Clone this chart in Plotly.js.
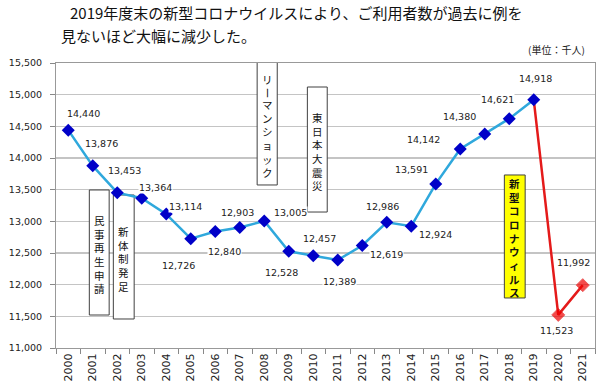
<!DOCTYPE html>
<html><head><meta charset="utf-8">
<script src="https://cdn.plot.ly/plotly-3.0.1.min.js"></script>
<style>html,body{margin:0;padding:0;background:#fff}#chart{width:600px;height:390px}</style>
</head><body><div id="chart"></div>
<script>
// ---- data ----
const years = ['2000','2001','2002','2003','2004','2005','2006','2007','2008','2009','2010',
               '2011','2012','2013','2014','2015','2016','2017','2018','2019','2020','2021'];
const riders = [14440,13876,13453,13364,13114,12726,12840,12903,13005,12528,12457,
                12389,12619,12986,12924,13591,14142,14380,14621,14918,11523,11992];
const yTickVals = [11000,11500,12000,12500,13000,13500,14000,14500,15000,15500];
const titleLine1 = '2019年度末の新型コロナウイルスにより、ご利用者数が過去に例を';
const titleLine2 = '見ないほど大幅に減少した。';
const unitText = '(単位：千人)';
const eventTexts = ['民事再生申請','新体制発足','リーマンショック','東日本大震災','新型コロナウィルス'];

// ---- layout helpers (positions / styles) ----
const covidStart = years.indexOf('2019');
const labelDx = [15, 9, 7, 14, 19, -12, 9, -2, 26, -7, 6, 2, 24, -4, 24, -24, -37, -25, -12, 2, -2, -9];
const labelDy = [-17,-22,-22,-11, -8, 27, 20,-15, -9, 21,-17, 21, 9,-16, 8,-14,-10,-17,-19,-21, 16,-23];
// boxes: [x0, x1] in category index units, [yTop, yBottom] in data units
const eventBoxes = [
  {x0:0.86, x1:1.67, yTop:13495, yBot:11521, fill:'#ffffff', bold:false},
  {x0:1.84, x1:2.69, yTop:13416, yBot:11458, fill:'#ffffff', bold:false},
  {x0:7.71, x1:8.53, yTop:15516, yBot:13574, fill:'#ffffff', bold:false},
  {x0:9.76, x1:10.57, yTop:15121, yBot:13147, fill:'#ffffff', bold:false},
  {x0:17.8, x1:18.65, yTop:13732, yBot:11790, fill:'#ffff00', bold:true}
];
const vFontSize = 10;
const charStep = 1.3 * vFontSize;   // px per vertical character (plotly line height)

const fmt = v => v.toLocaleString('en-US');

const blueTrace = {
  x: years.slice(0, covidStart + 1),
  y: riders.slice(0, covidStart + 1),
  type: 'scatter', mode: 'lines+markers',
  line: {color: '#2fa8dc', width: 2.5},
  marker: {symbol: 'diamond', size: 10, color: '#0000c8'},
  hoverinfo: 'x+y'
};
const redTrace = {
  x: years.slice(covidStart),
  y: riders.slice(covidStart),
  type: 'scatter', mode: 'lines+markers',
  line: {color: '#e41a1a', width: 2.5},
  marker: {symbol: 'diamond', size: years.slice(covidStart).map((_, i) => i === 0 ? 0 : 10), color: '#f00000'},
  hoverinfo: 'x+y'
};

const annotations = [];
// data labels (x given as category serial number)
years.forEach((yr, i) => {
  annotations.push({
    x: i, y: riders[i], xref: 'x', yref: 'y', text: fmt(riders[i]), showarrow: false,
    xshift: labelDx[i], yshift: -labelDy[i], bgcolor: '#ffffff', borderpad: 0,
    font: {family: 'DejaVu Sans, Verdana, sans-serif', size: 9.5, color: '#222'}
  });
});
// event boxes with vertical (stacked) text
const shapes = [];
eventTexts.forEach((txt, k) => {
  const b = eventBoxes[k];
  shapes.push({type: 'rect', xref: 'x', yref: 'y', x0: b.x0, x1: b.x1, y0: b.yBot, y1: b.yTop,
    fillcolor: b.fill, line: {color: '#404040', width: 1}, layer: 'between'});
  const chars = Array.from(txt);
  const n = chars.length;
  const xc = (b.x0 + b.x1) / 2, yc = (b.yTop + b.yBot) / 2;
  // split into runs; the long-vowel mark is drawn rotated as in vertical writing
  const runs = [];
  let cur = null;
  chars.forEach((ch, i) => {
    if (ch === 'ー') { if (cur) { runs.push(cur); cur = null; } runs.push({s: i, chars: [ch], rot: true}); }
    else { if (!cur) cur = {s: i, chars: [], rot: false}; cur.chars.push(ch); }
  });
  if (cur) runs.push(cur);
  runs.forEach(r => {
    const m = r.chars.length;
    const cIdx = r.s + (m - 1) / 2;
    const body = r.chars.join('<br>');
    annotations.push({
      x: xc, y: yc, xref: 'x', yref: 'y', text: b.bold ? '<b>' + body + '</b>' : body, showarrow: false,
      yshift: -((cIdx - (n - 1) / 2) * charStep + 2),
      textangle: r.rot ? 90 : 0,
      font: {family: 'Noto Sans CJK JP, sans-serif', size: b.bold ? vFontSize + 0.5 : vFontSize + 0.5, color: '#111'}
    });
  });
});
// title line 2 and unit
annotations.push({xref: 'paper', yref: 'paper', x: 0.0056, y: 1.098, xanchor: 'left', yanchor: 'middle',
  text: titleLine2, showarrow: false, font: {family: 'Noto Sans CJK JP, sans-serif', size: 15, color: '#111'}});
annotations.push({xref: 'paper', yref: 'paper', x: 0.985, y: 1.049, xanchor: 'right', yanchor: 'middle',
  text: unitText, showarrow: false, font: {family: 'Noto Sans CJK JP, sans-serif', size: 10, color: '#222'}});

const layout = {
  width: 600, height: 390,
  margin: {l: 56, r: 5, t: 63, b: 42},
  paper_bgcolor: '#ffffff', plot_bgcolor: '#ffffff',
  showlegend: false,
  title: {text: titleLine1, x: 70/600, xanchor: 'left', xref: 'container', y: 1 - 14/390, yanchor: 'middle', yref: 'container',
          font: {family: 'Noto Sans CJK JP, sans-serif', size: 15, color: '#111'}},
  xaxis: {
    type: 'category', categoryorder: 'array', categoryarray: years,
    tickson: 'boundaries', ticks: 'outside', ticklen: 5, tickcolor: '#888',
    tickangle: -90, showgrid: false, showline: true, linecolor: '#999', linewidth: 1, mirror: true,
    tickfont: {family: 'DejaVu Sans, Verdana, sans-serif', size: 11, color: '#222'},
    range: [-0.5, years.length - 0.5], fixedrange: true
  },
  yaxis: {
    range: [11000, 15500], tickvals: yTickVals, ticktext: yTickVals.map(fmt),
    ticks: 'outside', ticklen: 5, tickcolor: '#888', ticklabelstandoff: 6,
    showgrid: true, gridcolor: '#c4c4c4', gridwidth: 1.3,
    showline: true, linecolor: '#999', linewidth: 1, mirror: true, zeroline: false,
    tickfont: {family: 'DejaVu Sans, Verdana, sans-serif', size: 9.5, color: '#222'},
    fixedrange: true
  },
  shapes: shapes,
  annotations: annotations
};

Plotly.newPlot('chart', [redTrace, blueTrace], layout, {displayModeBar: false, staticPlot: true});
</script>
</body></html>
